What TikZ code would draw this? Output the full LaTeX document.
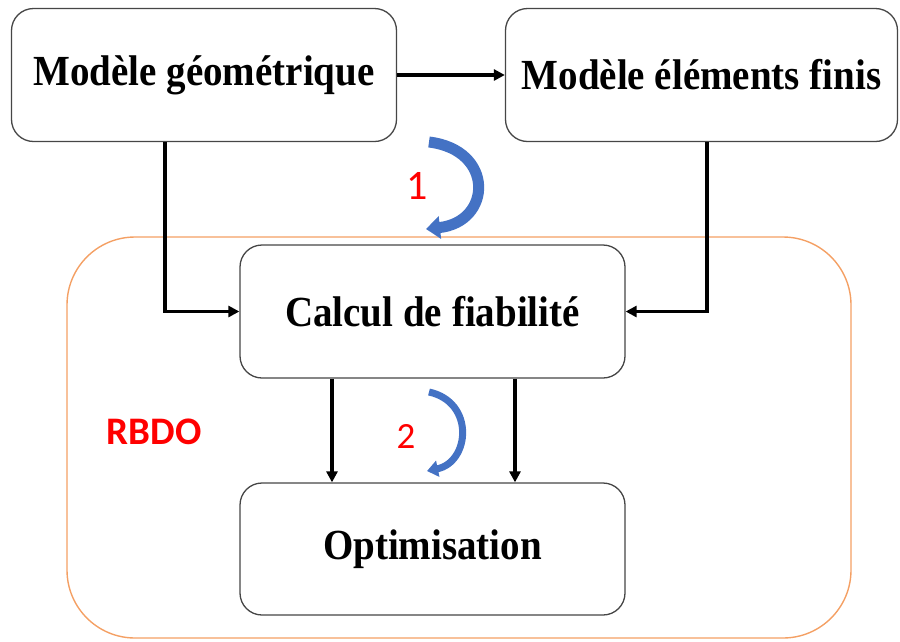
\documentclass[tikz,border=0pt]{standalone}
\usepackage{fontspec}
\setmainfont{Liberation Serif}
\newfontfamily\calib{Carlito}
\usetikzlibrary{arrows.meta}
\definecolor{rbdoorange}{RGB}{244,160,100}
\definecolor{cycleblue}{RGB}{68,114,196}
\definecolor{boxgray}{RGB}{70,70,70}
\tikzset{
  stepbox/.style={draw=boxgray, line width=1.3pt, rounded corners=22pt, fill=white,
    minimum width=385pt, minimum height=133pt, inner sep=0pt,
    font=\fontsize{39}{40}\selectfont\bfseries},
  conn/.style={line width=3.6pt, -{Triangle[length=11pt,width=11pt]}},
  cyclearrow/.style={draw=cycleblue, -{Triangle[length=14pt,width=22pt]}},
  numlabel/.style={text=red, font=\calib\fontsize{42}{42}\selectfont}
}
\newcommand{\tallt}[1]{\scalebox{1}[1.1]{#1}}
\begin{document}
\begin{tikzpicture}[x=1pt,y=-1pt]
\useasboundingbox (0,0) rectangle (900,641);
% RBDO container
\draw[rbdoorange, line width=1.4pt, rounded corners=68pt] (67,237) rectangle (851,638);
\node[text=red, font=\calib\bfseries\fontsize{39}{39}\selectfont] (rbdo) at (154,432) {RBDO};
% boxes
\node[stepbox] (geo) at (204,75) {\tallt{Modèle géométrique}};
\node[stepbox, minimum width=392pt] (ef) at (701.5,75) {\tallt{Modèle éléments finis}};
\node[stepbox] (calc) at (432.5,311.5) {\tallt{Calcul de fiabilité}};
\node[stepbox, minimum height=132pt] (opt) at (432.5,549) {\tallt{Optimisation}};
% connectors
\draw[conn] (geo.east) -- (ef.west);
\draw[conn] ([xshift=-39pt]geo.south) |- (calc.west);
\draw[conn] ([xshift=5.5pt]ef.south) |- (calc.east);
\draw[conn] ([xshift=-100.5pt]calc.south) -- ([xshift=-100.5pt]opt.north);
\draw[conn] ([xshift=82.5pt]calc.south) -- ([xshift=82.5pt]opt.north);
% cycle arrows
\coordinate (c1s) at (429,142);
\coordinate (c1e) at (426,229);
\draw[cyclearrow, line width=11pt] (c1s) .. controls (495,150) and (492,222) .. (c1e);
\node[numlabel] (n1) at (417,186) {1};
\coordinate (c2s) at (429,392);
\coordinate (c2e) at (427,471);
\draw[cyclearrow, line width=7pt, -{Triangle[length=11pt,width=16pt]}] (c2s) .. controls (475,402) and (470,462) .. (c2e);
\node[numlabel, font=\calib\fontsize{37}{37}\selectfont] (n2) at (406,436) {2};
\end{tikzpicture}
\end{document}
